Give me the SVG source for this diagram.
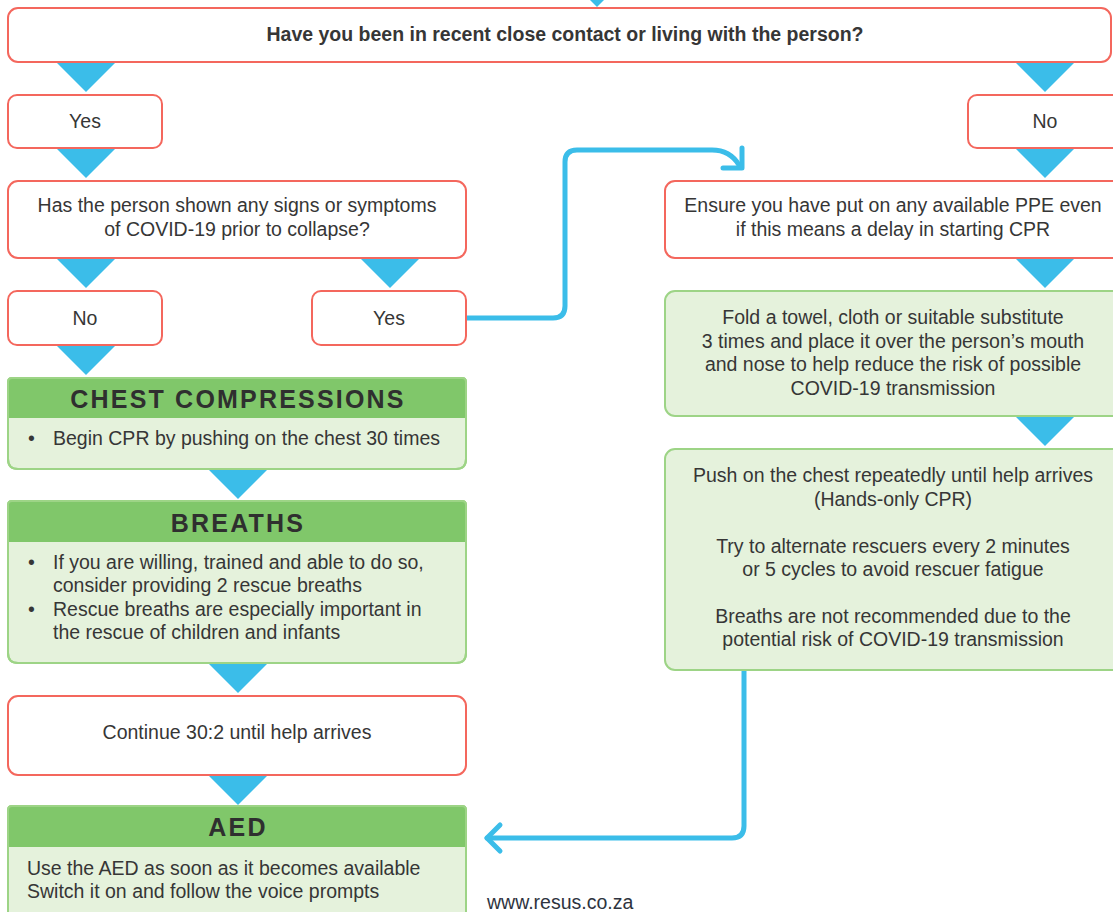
<svg xmlns="http://www.w3.org/2000/svg" width="1113" height="912" viewBox="0 0 1113 912">
<style>
.red{fill:#ffffff;stroke:#f4675d;stroke-width:2}
.gbox{fill:#e5f2dc;stroke:#9dd486;stroke-width:2}
.ghead{fill:#80c76a}
.gline{fill:none;stroke:#9dd486;stroke-width:2}
.tri{fill:#3bbde9}
.conn{fill:none;stroke:#3bbde9;stroke-width:5;stroke-linecap:round;stroke-linejoin:round}
.t{font-family:"Liberation Sans",Arial,sans-serif;font-size:19.5px;fill:#363636}
.c{text-anchor:middle}
.b{font-weight:bold}
.h{font-family:"Liberation Sans",Arial,sans-serif;font-size:25px;font-weight:bold;fill:#2f2f2f;text-anchor:middle;letter-spacing:2.2px}
</style>
<rect width="1113" height="912" fill="#ffffff"/>

<g id="connectors">
  <polygon class="tri" points="583,-7 611,-7 597,7"/>
  <polygon class="tri" points="56,62 116,62 86,92"/>
  <polygon class="tri" points="1015,62 1075,62 1045,92"/>
  <polygon class="tri" points="56,148 116,148 86,178"/>
  <polygon class="tri" points="1015,148 1075,148 1045,178"/>
  <polygon class="tri" points="56,258 116,258 86,288"/>
  <polygon class="tri" points="360,258 420,258 390,288"/>
  <polygon class="tri" points="1015,258 1075,258 1045,288"/>
  <polygon class="tri" points="56,345 116,345 86,375"/>
  <polygon class="tri" points="1015,416 1075,416 1045,446"/>
  <polygon class="tri" points="208,469 268,469 238,499"/>
  <polygon class="tri" points="208,663 268,663 238,693"/>
  <polygon class="tri" points="208,775 268,775 238,805"/>
  <path class="conn" d="M467,318 H553 Q565,318 565,306 V162 Q565,150 577,150 H712 Q730,150 739,165"/>
  <path class="conn" d="M742,148 V168 H723"/>
  <path class="conn" d="M744,671 V826 Q744,838 732,838 H487"/>
  <path class="conn" d="M500,825 L487,838 L500,851"/>
</g>

<g id="q-contact">
  <rect class="red" x="8" y="8" width="1103" height="54" rx="10"/>
  <text class="t c b" x="565" y="41">Have you been in recent close contact or living with the person?</text>
</g>
<g id="yes-contact">
  <rect class="red" x="8" y="95" width="154" height="53" rx="9"/>
  <text class="t c" x="85" y="128">Yes</text>
</g>
<g id="no-contact">
  <rect class="red" x="968" y="95" width="160" height="53" rx="9"/>
  <text class="t c" x="1045" y="128">No</text>
</g>
<g id="q-symptoms">
  <rect class="red" x="8" y="181" width="458" height="77" rx="10"/>
  <text class="t c" x="237" y="212">Has the person shown any signs or symptoms</text>
  <text class="t c" x="237" y="236">of COVID-19 prior to collapse?</text>
</g>
<g id="ppe">
  <rect class="red" x="665" y="181" width="460" height="77" rx="10"/>
  <text class="t c" x="893" y="212">Ensure you have put on any available PPE even</text>
  <text class="t c" x="893" y="236">if this means a delay in starting CPR</text>
</g>
<g id="no-symptoms">
  <rect class="red" x="8" y="291" width="154" height="54" rx="9"/>
  <text class="t c" x="85" y="325">No</text>
</g>
<g id="yes-symptoms">
  <rect class="red" x="312" y="291" width="154" height="54" rx="9"/>
  <text class="t c" x="389" y="325">Yes</text>
</g>
<g id="towel">
  <rect class="gbox" x="665" y="291" width="460" height="125" rx="10"/>
  <text class="t c" x="893" y="324">Fold a towel, cloth or suitable substitute</text>
  <text class="t c" x="893" y="347.5">3 times and place it over the person’s mouth</text>
  <text class="t c" x="893" y="371">and nose to help reduce the risk of possible</text>
  <text class="t c" x="893" y="394.5">COVID-19 transmission</text>
</g>
<g id="hands-only">
  <rect class="gbox" x="665" y="449" width="460" height="221" rx="10"/>
  <text class="t c" x="893" y="482">Push on the chest repeatedly until help arrives</text>
  <text class="t c" x="893" y="506">(Hands-only CPR)</text>
  <text class="t c" x="893" y="553">Try to alternate rescuers every 2 minutes</text>
  <text class="t c" x="893" y="576">or 5 cycles to avoid rescuer fatigue</text>
  <text class="t c" x="893" y="623">Breaths are not recommended due to the</text>
  <text class="t c" x="893" y="646">potential risk of COVID-19 transmission</text>
</g>
<g id="chest-compressions">
  <path class="gbox" d="M12,378 H462 Q466,378 466,382 V459 Q466,469 456,469 H18 Q8,469 8,459 V382 Q8,378 12,378 Z"/>
  <path class="ghead" d="M8,418 V382 Q8,378 12,378 H462 Q466,378 466,382 V418 Z"/>
  <path class="gline" d="M12,378 H462 Q466,378 466,382 V459 Q466,469 456,469 H18 Q8,469 8,459 V382 Q8,378 12,378 Z"/>
  <text class="h" x="238" y="408">CHEST COMPRESSIONS</text>
  <text class="t" x="28" y="445">•</text>
  <text class="t" x="53" y="445">Begin CPR by pushing on the chest 30 times</text>
</g>
<g id="breaths">
  <path class="gbox" d="M12,501 H462 Q466,501 466,505 V653 Q466,663 456,663 H18 Q8,663 8,653 V505 Q8,501 12,501 Z"/>
  <path class="ghead" d="M8,542 V505 Q8,501 12,501 H462 Q466,501 466,505 V542 Z"/>
  <path class="gline" d="M12,501 H462 Q466,501 466,505 V653 Q466,663 456,663 H18 Q8,663 8,653 V505 Q8,501 12,501 Z"/>
  <text class="h" x="238" y="532">BREATHS</text>
  <text class="t" x="28" y="569">•</text>
  <text class="t" x="53" y="569">If you are willing, trained and able to do so,</text>
  <text class="t" x="53" y="592">consider providing 2 rescue breaths</text>
  <text class="t" x="28" y="616">•</text>
  <text class="t" x="53" y="616">Rescue breaths are especially important in</text>
  <text class="t" x="53" y="639">the rescue of children and infants</text>
</g>
<g id="continue">
  <rect class="red" x="8" y="696" width="458" height="79" rx="10"/>
  <text class="t c" x="237" y="739">Continue 30:2 until help arrives</text>
</g>
<g id="aed">
  <path class="gbox" d="M12,806 H462 Q466,806 466,810 V916 Q466,926 456,926 H18 Q8,926 8,916 V810 Q8,806 12,806 Z"/>
  <path class="ghead" d="M8,847 V810 Q8,806 12,806 H462 Q466,806 466,810 V847 Z"/>
  <path class="gline" d="M12,806 H462 Q466,806 466,810 V916 Q466,926 456,926 H18 Q8,926 8,916 V810 Q8,806 12,806 Z"/>
  <text class="h" x="238" y="836">AED</text>
  <text class="t" x="27" y="875">Use the AED as soon as it becomes available</text>
  <text class="t" x="27" y="898">Switch it on and follow the voice prompts</text>
</g>
<g id="footer">
  <text class="t" x="487" y="909" style="font-size:19.5px;fill:#2e3440">www.resus.co.za</text>
</g>
</svg>
